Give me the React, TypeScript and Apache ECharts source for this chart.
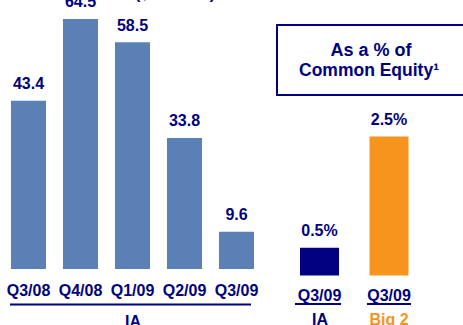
import React, { useEffect, useRef } from "react";
import * as echarts from "echarts";

const iaQuarters = ["Q3/08", "Q4/08", "Q1/09", "Q2/09", "Q3/09"];
const iaValues = [43.4, 64.5, 58.5, 33.8, 9.6];
const equityCategories = ["Q3/09", "Q3/09"];
const equityGroups = ["IA", "Big 2"];
const equityValues = [0.5, 2.5];

const NAVY = "#000080";
const STEEL = "#5b80b5";
const ORANGE = "#f7941d";
const FONT = "Liberation Sans, Arial, sans-serif";

export default function App() {
  const ref = useRef<HTMLDivElement>(null);
  useEffect(() => {
    document.body.style.margin = "0";
    const chart = echarts.init(ref.current!, null, { renderer: "svg" });
    const axisLabel = { color: NAVY, fontSize: 16, fontWeight: "bold" as const, fontFamily: FONT, margin: 13, interval: 0 };
    chart.setOption({
      animation: false,
      grid: [
        { left: 2.5, top: 17, width: 260, height: 252 },
        { left: 284.75, top: 108.7, width: 139, height: 166.8 },
      ],
      xAxis: [
        { type: "category", gridIndex: 0, data: iaQuarters, axisLine: { show: false }, axisTick: { show: false }, axisLabel },
        { type: "category", gridIndex: 1, data: equityCategories, axisLine: { show: false }, axisTick: { show: false }, axisLabel: { ...axisLabel, margin: 12 } },
      ],
      yAxis: [
        { type: "value", gridIndex: 0, min: 0, max: 65, show: false, splitLine: { show: false } },
        { type: "value", gridIndex: 1, min: 0, max: 3, show: false, splitLine: { show: false } },
      ],
      series: [
        {
          type: "bar",
          xAxisIndex: 0,
          yAxisIndex: 0,
          data: iaValues,
          barWidth: 35,
          itemStyle: { color: STEEL },
          label: { show: true, position: "top", distance: 9, color: NAVY, fontSize: 16, fontWeight: "bold", fontFamily: FONT },
        },
        {
          type: "bar",
          xAxisIndex: 1,
          yAxisIndex: 1,
          data: equityValues.map((v, i) => ({ value: v, itemStyle: { color: i === 0 ? NAVY : ORANGE } })),
          barWidth: 39,
          label: { show: true, position: "top", distance: 9, color: NAVY, fontSize: 16, fontWeight: "bold", fontFamily: FONT, formatter: "{c}%" },
        },
      ],
      graphic: [
        { type: "text", x: 175, y: 1.5, style: { text: "($ billions)", fill: NAVY, font: `bold 16px ${FONT}`, textAlign: "center", textVerticalAlign: "bottom" } },
        { type: "line", shape: { x1: 10, y1: 304.5, x2: 251, y2: 304.5 }, style: { stroke: NAVY, lineWidth: 2 } },
        { type: "line", shape: { x1: 295, y1: 304, x2: 341, y2: 304 }, style: { stroke: NAVY, lineWidth: 2 } },
        { type: "line", shape: { x1: 367, y1: 304, x2: 411, y2: 304 }, style: { stroke: NAVY, lineWidth: 2 } },
        { type: "text", x: 133, y: 321, style: { text: "IA", fill: NAVY, font: `bold 16px ${FONT}`, textAlign: "center", textVerticalAlign: "middle" } },
        { type: "text", x: 320, y: 319, style: { text: equityGroups[0], fill: NAVY, font: `bold 16px ${FONT}`, textAlign: "center", textVerticalAlign: "middle" } },
        { type: "text", x: 389, y: 319, style: { text: equityGroups[1], fill: ORANGE, font: `bold 16px ${FONT}`, textAlign: "center", textVerticalAlign: "middle" } },
        { type: "rect", shape: { x: 277, y: 25, width: 200, height: 70 }, style: { fill: "none", stroke: NAVY, lineWidth: 2 } },
        { type: "text", x: 371, y: 49.5, style: { text: "As a % of", fill: NAVY, font: `bold 18px ${FONT}`, textAlign: "center", textVerticalAlign: "middle" } },
        { type: "text", x: 369, y: 70, style: { text: "Common Equity¹", fill: NAVY, font: `bold 17.5px ${FONT}`, textAlign: "center", textVerticalAlign: "middle" } },
      ],
    });
    return () => chart.dispose();
  }, []);
  return <div ref={ref} style={{ width: 463, height: 325 }} />;
}
